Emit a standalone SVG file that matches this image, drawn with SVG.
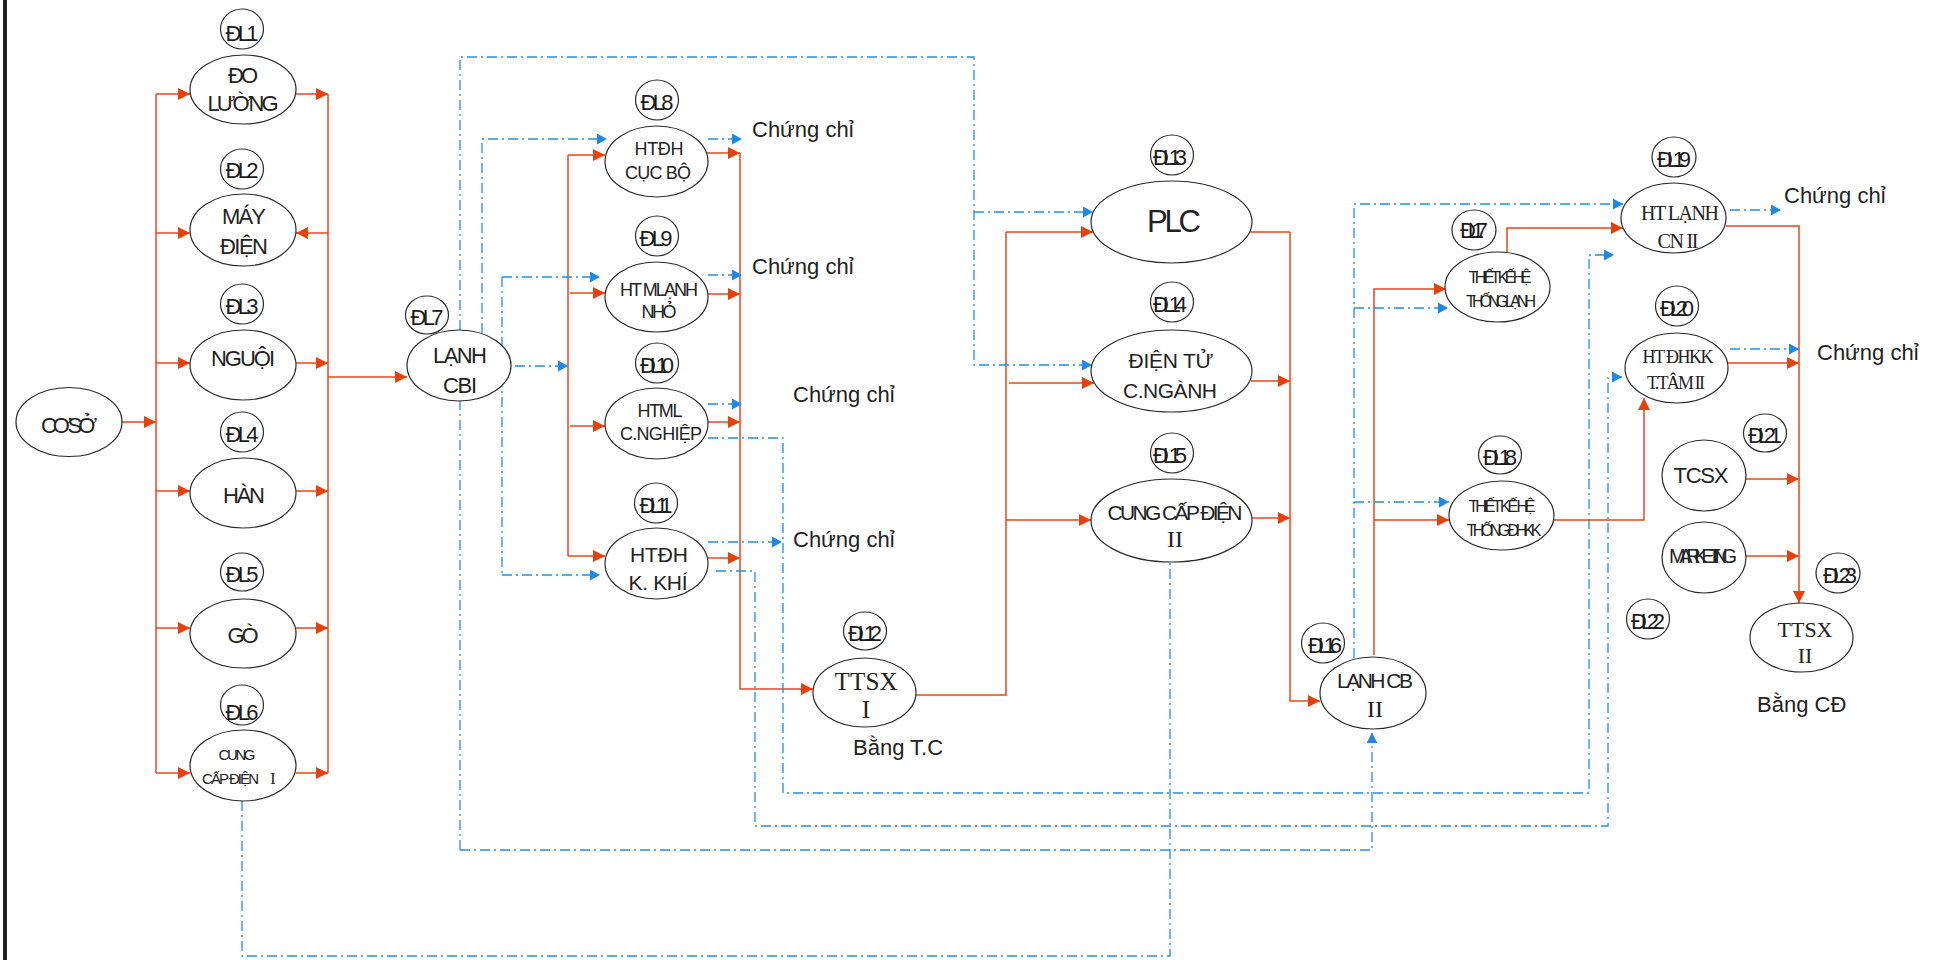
<svg xmlns="http://www.w3.org/2000/svg" width="1952" height="960" viewBox="0 0 1952 960">
<defs>
<style>
.n{fill:#fff;stroke:#2a2a2a;stroke-width:1.2}
.t{font-family:"Liberation Sans",Arial,sans-serif;fill:#222;text-anchor:middle}
.ts{font-family:"Liberation Sans",Arial,sans-serif;fill:#222;text-anchor:start}
.s{font-family:"Liberation Serif","Times New Roman",serif;fill:#222;text-anchor:middle}
.lb{font-family:"Liberation Sans",Arial,sans-serif;fill:#1a1a1a;text-anchor:middle;font-size:22px}
.o{fill:none;stroke:#E8471A;stroke-width:1.5}
.oa{fill:none;stroke:#E8471A;stroke-width:1.5;marker-end:url(#ao)}
.b{fill:none;stroke:#2090E0;stroke-width:1.3;stroke-dasharray:10 4 2 4}
.ba{fill:none;stroke:#2090E0;stroke-width:1.3;stroke-dasharray:10 4 2 4;marker-end:url(#ab)}
</style>
<marker id="ao" markerUnits="userSpaceOnUse" markerWidth="13" markerHeight="12" refX="12" refY="6" orient="auto"><path d="M0,0 L12,6 L0,12 z" fill="#E8400C"/></marker>
<marker id="ab" markerUnits="userSpaceOnUse" markerWidth="12" markerHeight="12" refX="10" refY="5.5" orient="auto"><path d="M0,0 L10,5.5 L0,11 z" fill="#1E88E5"/></marker>
</defs>
<rect x="0" y="0" width="1952" height="960" fill="#fff"/>
<rect x="3" y="0" width="4" height="960" fill="#222"/>

<g id="connectors">
<path class="oa" d="M122,422 H156"/>
<path class="o" d="M156,94 V773"/>
<path class="oa" d="M156,94 H190"/>
<path class="oa" d="M156,233 H190"/>
<path class="oa" d="M156,363 H190"/>
<path class="oa" d="M156,491 H190"/>
<path class="oa" d="M156,628 H190"/>
<path class="oa" d="M156,773 H190"/>
<path class="o" d="M328,94 V773"/>
<path class="oa" d="M296,94 H328"/>
<path class="oa" d="M328,233 H296"/>
<path class="oa" d="M296,363 H328"/>
<path class="oa" d="M296,491 H328"/>
<path class="oa" d="M296,628 H328"/>
<path class="oa" d="M296,773 H328"/>
<path class="oa" d="M328,377 H407"/>
<path class="o" d="M568,155 V556"/>
<path class="oa" d="M568,155 H605"/>
<path class="oa" d="M570,293 H605"/>
<path class="oa" d="M570,426 H605"/>
<path class="oa" d="M568,556 H605"/>
<path class="oa" d="M707,153 H740"/>
<path class="oa" d="M708,294 H740"/>
<path class="oa" d="M708,422 H740"/>
<path class="oa" d="M708,558 H740"/>
<path class="oa" d="M740,153 V689 H813"/>
<path class="o" d="M916,695 H1006 V232"/>
<path class="oa" d="M1006,232 H1093"/>
<path class="oa" d="M1009,383 H1094"/>
<path class="oa" d="M1006,520 H1091"/>
<path class="o" d="M1250,232 H1290"/>
<path class="oa" d="M1290,232 V701 H1320"/>
<path class="oa" d="M1251,381 H1290"/>
<path class="oa" d="M1252,518 H1290"/>
<path class="oa" d="M1374,655 V289 H1446"/>
<path class="oa" d="M1374,520 H1449"/>
<path class="oa" d="M1507,252 V228 H1623"/>
<path class="oa" d="M1554,520 H1644 V398"/>
<path class="oa" d="M1726,226 H1799 V603"/>
<path class="oa" d="M1728,363 H1799"/>
<path class="oa" d="M1746,479 H1799"/>
<path class="oa" d="M1746,556 H1799"/>

<path class="ba" d="M460,850 V57 H974 V365 H1092"/>
<path class="ba" d="M974,212 H1093"/>
<path class="ba" d="M460,850 H1372 V733"/>
<path class="ba" d="M482,333 V139 H607"/>
<path class="b" d="M502,277 V575"/>
<path class="ba" d="M502,277 H600"/>
<path class="ba" d="M502,575 H600"/>
<path class="ba" d="M515,366 H568"/>
<path class="ba" d="M708,139 H742"/>
<path class="ba" d="M708,275 H742"/>
<path class="ba" d="M708,404 H742"/>
<path class="ba" d="M708,542 H782"/>
<path class="ba" d="M708,438 H783 V793 H1589 V255 H1614"/>
<path class="ba" d="M716,571 H755 V826 H1608 V377 H1622"/>
<path class="b" d="M242,801 V956 H1170 V562"/>
<path class="ba" d="M1354,658 V204 H1623"/>
<path class="ba" d="M1354,308 H1448"/>
<path class="ba" d="M1354,502 H1449"/>
<path class="ba" d="M1730,210 H1781"/>
<path class="ba" d="M1730,349 H1799"/>
</g>

<g id="coso"><ellipse class="n" cx="69" cy="422" rx="53" ry="34.5"/><text class="t" x="69" y="433" font-size="22" textLength="56" lengthAdjust="spacing">CƠSỞ</text></g>

<g id="dl1"><ellipse class="n" cx="242" cy="29" rx="21.5" ry="20"/><text class="lb" x="242" y="41" textLength="33" lengthAdjust="spacing">ĐL1</text></g>
<g id="doluong"><ellipse class="n" cx="243" cy="89.5" rx="53" ry="34.5"/><text class="t" x="243" y="83" font-size="22" textLength="30" lengthAdjust="spacing">ĐO</text><text class="t" x="243" y="111" font-size="22" textLength="71" lengthAdjust="spacing">LƯỜNG</text></g>

<g id="dl2"><ellipse class="n" cx="242" cy="169" rx="21.5" ry="20"/><text class="lb" x="242" y="178" textLength="33" lengthAdjust="spacing">ĐL2</text></g>
<g id="maydien"><ellipse class="n" cx="243" cy="230" rx="53" ry="36"/><text class="t" x="244" y="224" font-size="22" textLength="44" lengthAdjust="spacing">MÁY</text><text class="t" x="244" y="254" font-size="22" textLength="48" lengthAdjust="spacing">ĐIỆN</text></g>

<g id="dl3"><ellipse class="n" cx="242" cy="304" rx="21.5" ry="20"/><text class="lb" x="242" y="314" textLength="33" lengthAdjust="spacing">ĐL3</text></g>
<g id="nguoi"><ellipse class="n" cx="243" cy="365" rx="53" ry="35"/><text class="t" x="243" y="366" font-size="22" textLength="64" lengthAdjust="spacing">NGUỘI</text></g>

<g id="dl4"><ellipse class="n" cx="242" cy="432" rx="21.5" ry="20"/><text class="lb" x="242" y="442" textLength="33" lengthAdjust="spacing">ĐL4</text></g>
<g id="han"><ellipse class="n" cx="243" cy="493" rx="53" ry="35"/><text class="t" x="244" y="503" font-size="22" textLength="42" lengthAdjust="spacing">HÀN</text></g>

<g id="dl5"><ellipse class="n" cx="242" cy="572" rx="21.5" ry="19"/><text class="lb" x="242" y="582" textLength="33" lengthAdjust="spacing">ĐL5</text></g>
<g id="go"><ellipse class="n" cx="243" cy="633.5" rx="53" ry="34.5"/><text class="t" x="243" y="643" font-size="22" textLength="31" lengthAdjust="spacing">GÒ</text></g>

<g id="dl6"><ellipse class="n" cx="242" cy="705" rx="21.5" ry="20"/><text class="lb" x="242" y="720" textLength="33" lengthAdjust="spacing">ĐL6</text></g>
<g id="cungcap1"><ellipse class="n" cx="243" cy="765.5" rx="53" ry="35.5"/><text class="t" x="237" y="760" font-size="15" textLength="37" lengthAdjust="spacing">CUNG</text><text class="ts" x="202" y="784" font-size="15" textLength="57" lengthAdjust="spacing">CẤP ĐIỆN</text><text class="s" x="273" y="784" font-size="16">I</text></g>

<g id="dl7"><ellipse class="n" cx="427" cy="315" rx="21.5" ry="19"/><text class="lb" x="427" y="325" textLength="33" lengthAdjust="spacing">ĐL7</text></g>
<g id="lanhcb1"><ellipse class="n" cx="459" cy="365.5" rx="52" ry="35.5"/><text class="t" x="460" y="363" font-size="22" textLength="54" lengthAdjust="spacing">LẠNH</text><text class="t" x="460" y="393" font-size="22" textLength="34" lengthAdjust="spacing">CBI</text></g>

<g id="dl8"><ellipse class="n" cx="657" cy="100" rx="21.5" ry="20"/><text class="lb" x="657" y="110" textLength="33" lengthAdjust="spacing">ĐL8</text></g>
<g id="htdhcucbo"><ellipse class="n" cx="656.5" cy="161.5" rx="51.5" ry="35.5"/><text class="t" x="659" y="155" font-size="18" textLength="49" lengthAdjust="spacing">HTĐH</text><text class="t" x="658" y="179" font-size="18" textLength="66" lengthAdjust="spacing">CỤC BỘ</text></g>

<g id="dl9"><ellipse class="n" cx="657" cy="236" rx="21.5" ry="20"/><text class="lb" x="656" y="246" textLength="33" lengthAdjust="spacing">ĐL9</text></g>
<g id="htmlanhnho"><ellipse class="n" cx="656.5" cy="297" rx="51.5" ry="35"/><text class="t" x="659" y="296" font-size="18" textLength="78" lengthAdjust="spacing">HT MLẠNH</text><text class="t" x="659" y="318" font-size="18" textLength="35" lengthAdjust="spacing">NHỎ</text></g>

<g id="dl10"><ellipse class="n" cx="657" cy="363" rx="21.5" ry="20"/><text class="lb" x="657" y="373" textLength="34" lengthAdjust="spacing">ĐL10</text></g>
<g id="htmlcn"><ellipse class="n" cx="656.5" cy="423.5" rx="51.5" ry="35.5"/><text class="t" x="660" y="417" font-size="18" textLength="45" lengthAdjust="spacing">HTML</text><text class="t" x="661" y="440" font-size="18" textLength="82" lengthAdjust="spacing">C.NGHIỆP</text></g>

<g id="dl11"><ellipse class="n" cx="656" cy="503" rx="21.5" ry="20"/><text class="lb" x="656" y="513" textLength="33" lengthAdjust="spacing">ĐL11</text></g>
<g id="htdhkkhi"><ellipse class="n" cx="656.5" cy="563.5" rx="51.5" ry="35.5"/><text class="t" x="659" y="562" font-size="21" textLength="58" lengthAdjust="spacing">HTĐH</text><text class="t" x="658" y="590" font-size="21" textLength="59" lengthAdjust="spacing">K. KHÍ</text></g>

<g id="dl12"><ellipse class="n" cx="865" cy="631" rx="21.5" ry="19"/><text class="lb" x="865" y="641" textLength="34" lengthAdjust="spacing">ĐL12</text></g>
<g id="ttsx1"><ellipse class="n" cx="864.5" cy="692.5" rx="51.5" ry="34.5"/><text class="s" x="866" y="690" font-size="25" textLength="63" lengthAdjust="spacing">TTSX</text><text class="s" x="866" y="718" font-size="25">I</text></g>

<g id="dl13"><ellipse class="n" cx="1172" cy="155" rx="21.5" ry="20"/><text class="lb" x="1170" y="165" textLength="34" lengthAdjust="spacing">ĐL13</text></g>
<g id="plc"><ellipse class="n" cx="1171.5" cy="222" rx="80.5" ry="41"/><text class="t" x="1174" y="232" font-size="31" textLength="54" lengthAdjust="spacing">PLC</text></g>

<g id="dl14"><ellipse class="n" cx="1172" cy="302" rx="21.5" ry="20"/><text class="lb" x="1170" y="312" textLength="34" lengthAdjust="spacing">ĐL14</text></g>
<g id="dientu"><ellipse class="n" cx="1171.5" cy="371" rx="80.5" ry="41"/><text class="t" x="1171" y="368" font-size="21" textLength="85" lengthAdjust="spacing">ĐIỆN TỬ</text><text class="t" x="1170" y="398" font-size="21" textLength="94" lengthAdjust="spacing">C.NGÀNH</text></g>

<g id="dl15"><ellipse class="n" cx="1172" cy="453" rx="21.5" ry="20"/><text class="lb" x="1170" y="463" textLength="34" lengthAdjust="spacing">ĐL15</text></g>
<g id="cungcap2"><ellipse class="n" cx="1171.5" cy="520.5" rx="80.5" ry="41.5"/><text class="t" x="1175" y="520" font-size="21" textLength="135" lengthAdjust="spacing">CUNG CẤP ĐIỆN</text><text class="s" x="1175" y="547" font-size="24">II</text></g>

<g id="dl16b"><ellipse class="n" cx="1323" cy="643" rx="21.5" ry="20"/><text class="lb" x="1325" y="653" textLength="34" lengthAdjust="spacing">ĐL16</text></g>
<g id="lanhcb2"><ellipse class="n" cx="1373" cy="693" rx="53" ry="36"/><text class="t" x="1375" y="688" font-size="21" textLength="76" lengthAdjust="spacing">LẠNH CB</text><text class="s" x="1375" y="717" font-size="24">II</text></g>

<g id="dl17"><ellipse class="n" cx="1474" cy="230" rx="22" ry="20"/><text class="lb" x="1474" y="238" font-size="17" textLength="28" lengthAdjust="spacing">ĐL17</text></g>
<g id="tklanh"><ellipse class="n" cx="1497.5" cy="287" rx="52.5" ry="35"/><text class="t" x="1500" y="283" font-size="16" textLength="63" lengthAdjust="spacing">THIẾT KẾ HỆ</text><text class="t" x="1501" y="307" font-size="16" textLength="70" lengthAdjust="spacing">THỐNG LẠNH</text></g>

<g id="dl18"><ellipse class="n" cx="1500" cy="455" rx="21.5" ry="19"/><text class="lb" x="1500" y="465" textLength="34" lengthAdjust="spacing">ĐL18</text></g>
<g id="tkdhkk"><ellipse class="n" cx="1501.5" cy="515.5" rx="52.5" ry="34.5"/><text class="t" x="1502" y="512" font-size="16" textLength="67" lengthAdjust="spacing">THIẾT KẾ HỆ</text><text class="t" x="1504" y="536" font-size="16" textLength="75" lengthAdjust="spacing">THỐNG ĐHKK</text></g>

<g id="dl19"><ellipse class="n" cx="1674" cy="157" rx="22" ry="20"/><text class="lb" x="1674" y="167" textLength="34" lengthAdjust="spacing">ĐL19</text></g>
<g id="htlanhcn2"><ellipse class="n" cx="1673.5" cy="218" rx="52.5" ry="35"/><text class="s" x="1680" y="220" font-size="20" textLength="78" lengthAdjust="spacing">HT LẠNH</text><text class="s" x="1678" y="248" font-size="20" textLength="41" lengthAdjust="spacing">CN II</text></g>

<g id="dl20"><ellipse class="n" cx="1677" cy="306" rx="21.5" ry="20"/><text class="lb" x="1677" y="316" textLength="34" lengthAdjust="spacing">ĐL20</text></g>
<g id="htdhkk"><ellipse class="n" cx="1676.5" cy="368" rx="51.5" ry="35"/><text class="s" x="1678" y="363" font-size="18" textLength="71" lengthAdjust="spacing">HT ĐHKK</text><text class="s" x="1676" y="389" font-size="18" textLength="58" lengthAdjust="spacing">T.TÂM II</text></g>

<g id="dl21"><ellipse class="n" cx="1765" cy="433" rx="21.5" ry="19"/><text class="lb" x="1765" y="443" textLength="34" lengthAdjust="spacing">ĐL21</text></g>
<g id="tcsx"><ellipse class="n" cx="1704" cy="475.5" rx="42" ry="35.5"/><text class="t" x="1701" y="483" font-size="22" textLength="55" lengthAdjust="spacing">TCSX</text></g>
<g id="marketing"><ellipse class="n" cx="1704" cy="557.5" rx="42" ry="35.5"/><text class="t" x="1703" y="563" font-size="20" textLength="68" lengthAdjust="spacing">MARKETING</text></g>

<g id="dl22"><ellipse class="n" cx="1648" cy="619" rx="21.5" ry="20"/><text class="lb" x="1648" y="629" textLength="34" lengthAdjust="spacing">ĐL22</text></g>
<g id="dl23"><ellipse class="n" cx="1838" cy="573" rx="22" ry="20"/><text class="lb" x="1840" y="583" textLength="34" lengthAdjust="spacing">ĐL23</text></g>
<g id="ttsx2"><ellipse class="n" cx="1801.5" cy="637.5" rx="51.5" ry="34.5"/><text class="s" x="1805" y="637" font-size="22" textLength="55" lengthAdjust="spacing">TTSX</text><text class="s" x="1805" y="663" font-size="22">II</text></g>

<g id="labels">
<text class="ts" x="752" y="137" font-size="22">Chứng chỉ</text>
<text class="ts" x="752" y="274" font-size="22">Chứng chỉ</text>
<text class="ts" x="793" y="402" font-size="22">Chứng chỉ</text>
<text class="ts" x="793" y="547" font-size="22">Chứng chỉ</text>
<text class="ts" x="1784" y="203" font-size="22">Chứng chỉ</text>
<text class="ts" x="1817" y="360" font-size="22">Chứng chỉ</text>
<text class="ts" x="853" y="755" font-size="22">Bằng T.C</text>
<text class="ts" x="1757" y="712" font-size="22">Bằng CĐ</text>
</g>
</svg>
